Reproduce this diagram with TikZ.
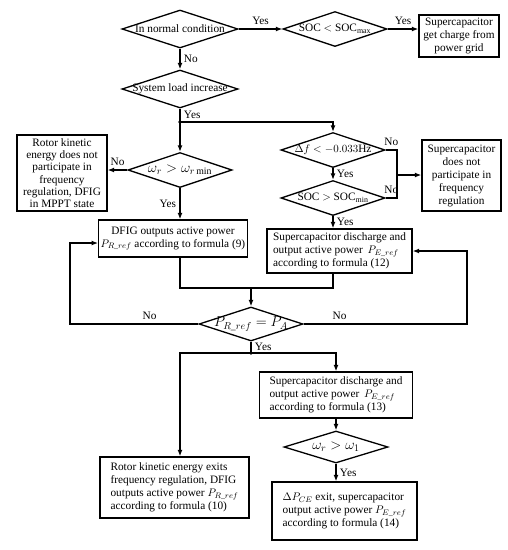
\documentclass[tikz,border=0pt]{standalone}
\usepackage{amsmath}
\usepackage{fontspec}
\setmainfont{Liberation Serif}
\usetikzlibrary{shapes.geometric,arrows.meta}

\begin{document}
\begin{tikzpicture}[x=1pt,y=-1pt,line width=1.3pt,>={Latex[length=6.5pt,width=5pt]},
  font=\fontsize{11.3}{13}\selectfont,
  decision/.style={draw,diamond,inner sep=0pt,minimum width=104pt,minimum height=35pt},
  block/.style={draw,inner sep=2pt,align=center},
  leftblock/.style={draw,inner sep=2pt,align=left},
  bigmath/.style={font=\fontsize{14}{16}\selectfont}]
  \useasboundingbox (0,0) rectangle (508,550);

  \node[decision,minimum width=116pt,minimum height=38pt,label=center:{In normal condition}] (d1) at (180,29) {};
  \node[decision,label=center:{SOC $<$ SOC$_{\max}$}] (d2) at (335,29) {};
  \node[block,minimum width=80pt,minimum height=42pt] (b1) at (459,36) {Supercapacitor\\get charge from\\power grid};
  \node[decision,minimum width=116pt,minimum height=38pt,label=center:{System load increase}] (d3) at (180,89) {};
  \coordinate (j1) at (180,122);

  \node[decision,label={[bigmath]center:$\omega_r>\omega_{r\min}$}] (d4) at (180,170) {};
  \node[block,minimum width=90pt,minimum height=76pt,font=\fontsize{11.3}{12.3}\selectfont] (b2) at (62,173) {Rotor kinetic\\energy does not\\participate in\\frequency\\regulation, DFIG\\in MPPT state};
  \node[decision,label=center:{$\Delta f<-0.033$Hz}] (d5) at (333,150) {};
  \node[decision,label=center:{SOC $>$ SOC$_{\min}$}] (d6) at (333,198) {};
  \node[block,minimum width=79pt,minimum height=71pt] (b3) at (461.5,175.5) {Supercapacitor\\does not\\participate in\\frequency\\regulation};
  \coordinate (n1) at (397,150);
  \coordinate (n2) at (397,198);
  \coordinate (n3) at (397,175);

  \node[block,minimum width=148pt,minimum height=37pt] (b4) at (173,238.5) {DFIG outputs active power\\$P_{R\_ref}$ according to formula (9)};
  \node[leftblock,minimum width=145pt,minimum height=44pt] (b5) at (339.5,251) {Supercapacitor discharge and\\output active power \,$P_{E\_ref}$\\according to formula (12)};
  \coordinate (m) at (251,288);

  \node[decision,minimum height=34pt,label={[bigmath]center:$P_{R\_ref}=P_A$}] (d7) at (251,324) {};
  \coordinate (l1) at (70,324);
  \coordinate (l2) at (70,243);
  \coordinate (r1) at (467,324);
  \coordinate (r2) at (467,251);
  \coordinate (j2) at (251,353);
  \coordinate (k1) at (180,353);

  \node[leftblock,minimum width=153pt,minimum height=46pt] (b6) at (336,395) {Supercapacitor discharge and\\output active power \,$P_{E\_ref}$\\according to formula (13)};
  \node[decision,minimum height=32pt,label={[bigmath]center:$\omega_r>\omega_1$}] (d8) at (336,447) {};
  \node[leftblock,minimum width=149pt,minimum height=61pt] (b7) at (174.5,487.5) {Rotor kinetic energy exits\\frequency regulation, DFIG\\outputs active power $P_{R\_ref}$\\according to formula (10)};
  \node[leftblock,minimum width=145pt,minimum height=58pt] (b8) at (344.5,511) {$\Delta P_{CE}$ exit, supercapacitor\\output active power $P_{E\_ref}$\\according to formula (14)};

  \draw[->] (d1) -- node[above]{Yes} (d2);
  \draw[->] (d2.east) -- node[above]{Yes} (d2.east -| b1.west);
  \draw[->] (d1) -- node[right]{No} (d3);
  \draw (d3) -- node[right]{Yes} (j1);
  \fill (j1) circle (1.8pt);
  \draw[->] (j1) -- (d4);
  \draw[->] (j1) -| (d5);
  \draw[->] (d4) -- node[above]{No} (b2.east |- d4);
  \draw[->] (d4) -- node[left]{Yes} (d4 |- b4.north);
  \draw[->] (d5) -- node[right]{Yes} (d6);
  \draw[->] (d6) -- node[right]{Yes} (d6 |- b5.north);
  \draw (d5.east) -- node[above]{No} (n1) -- (n2) -- node[above]{No} (d6.east);
  \draw[->] (n3) -- (n3 -| b3.west);
  \draw (d4 |- b4.south) |- (m);
  \draw (d6 |- b5.south) |- (m);
  \draw[->] (m) -- (d7);
  \draw[->] (d7) -- node[above,pos=0.38]{No} (l1) -- (l2) -- (l2 -| b4.west);
  \draw[->] (d7) -- node[above,pos=0.22]{No} (r1) -- (r2) -- (r2 -| b5.east);
  \draw (d7) -- node[right]{Yes} (j2);
  \fill (j2) circle (1.8pt);
  \draw[->] (j2) -- (k1) -- (k1 |- b7.north);
  \draw[->] (j2) -| (b6);
  \draw[->] (b6) -- (d8);
  \draw[->] (d8) -- node[right]{Yes} (d8 |- b8.north);
\end{tikzpicture}
\end{document}
